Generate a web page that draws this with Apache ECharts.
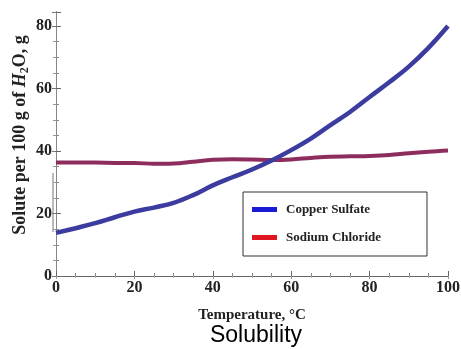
<!DOCTYPE html>
<html><head><meta charset="utf-8">
<script src="https://cdn.jsdelivr.net/npm/echarts@6/dist/echarts.min.js"></script>
<style>html,body{margin:0;padding:0;background:#fff}#c{width:461px;height:349px}</style>
</head><body><div id="c"></div>
<script>
const temps = [0,5,10,15,20,25,30,35,40,45,50,55,60,65,70,75,80,85,90,95,100];
const copperSulfate = [13.8,15.3,16.9,18.8,20.6,21.9,23.4,25.9,29.0,31.6,34.1,37.0,40.3,44.0,48.3,52.5,57.3,62.0,67.0,73.0,80.0];
const sodiumChloride = [36.3,36.3,36.3,36.2,36.2,35.9,36.0,36.6,37.2,37.4,37.3,37.1,37.3,37.8,38.2,38.3,38.4,38.7,39.3,39.8,40.2];
const seriesNames = ['Copper Sulfate','Sodium Chloride'];
const xTicks = [0,20,40,60,80,100];
const yTicks = [0,20,40,60,80];

const serif = '"Liberation Serif", "Times New Roman", serif';
const chart = echarts.init(document.getElementById('c'));
const pairs = a => temps.map((t,i)=>[t,a[i]]);
const tickLbl = {fontFamily: serif, fontWeight:'bold', fontSize:16, color:'#222'};
chart.setOption({
  animation:false,
  title:{text:'Solubility', left:251, textAlign:'center', top:319, textStyle:{fontFamily:'"Liberation Sans", Arial, sans-serif', fontWeight:'normal', fontSize:23, color:'#000'}},
  grid:{left:56, right:13, top:12, bottom:73, outerBoundsMode:'none', containLabel:false},
  legend:{
    orient:'vertical', left:243, top:192,
    borderColor:'#333', borderWidth:1, padding:[11,46,12,9],
    itemWidth:25, itemHeight:5, itemGap:15,
    textStyle:{fontFamily:serif, fontWeight:'bold', fontSize:13, color:'#222', padding:[0,0,0,4]},
    data:[
      {name:seriesNames[0], icon:'rect', itemStyle:{color:'#1a1ad6'}},
      {name:seriesNames[1], icon:'rect', itemStyle:{color:'#e01620'}}
    ]
  },
  xAxis:[{
    type:'value', min:0, max:100, interval:20,
    name:'Temperature, °C', nameLocation:'middle', nameGap:32, nameMoveOverlap:false,
    nameTextStyle:{fontFamily:serif, fontWeight:'bold', fontSize:15, color:'#222'},
    axisLine:{lineStyle:{color:'#666', width:1}},
    axisTick:{inside:true, length:5, lineStyle:{color:'#666'}},
    minorTick:{show:true, splitNumber:4, length:3, lineStyle:{color:'#888'}},
    splitLine:{show:false},
    axisLabel:{...tickLbl, margin:4, formatter:v=>xTicks.includes(v)?String(v):''}
  },{
    type:'value', position:'top', min:0, max:100, interval:20,
    axisLine:{show:false},
    axisTick:{inside:true, length:3, lineStyle:{color:'#999'}},
    minorTick:{show:true, splitNumber:4, length:2, lineStyle:{color:'#aaa'}},
    splitLine:{show:false}, axisLabel:{show:false}
  }],
  yAxis:[{
    type:'value', min:0, max:84.5, interval:20,
    name:'{a|Solute per 100 g of }{i|H}{s|2}{a|O, g}', nameLocation:'middle', nameGap:25, nameRotate:90, nameMoveOverlap:false,
    nameTextStyle:{padding:[0,0,0,18], rich:{
      a:{fontFamily:serif, fontWeight:'bold', fontSize:18, color:'#222'},
      i:{fontFamily:serif, fontWeight:'bold', fontStyle:'italic', fontSize:18, color:'#222'},
      s:{fontFamily:serif, fontWeight:'bold', fontSize:12, color:'#222', padding:[9,0,0,0]}
    }},
    axisLine:{show:true, lineStyle:{color:'#555', width:1}},
    axisTick:{inside:true, length:5, lineStyle:{color:'#666'}},
    minorTick:{show:true, splitNumber:4, length:3, lineStyle:{color:'#888'}},
    splitLine:{show:false},
    axisLabel:{...tickLbl, margin:4, showMaxLabel:false, formatter:v=>yTicks.includes(v)?String(v):''}
  },{
    type:'value', position:'right', min:0, max:84.5, interval:20,
    axisLine:{show:true, lineStyle:{color:'#888', width:1}},
    axisTick:{inside:true, length:4, lineStyle:{color:'#777'}},
    minorTick:{show:true, splitNumber:4, length:3, lineStyle:{color:'#999'}},
    splitLine:{show:false}, axisLabel:{show:false}
  }],
  series:[
    {name:seriesNames[0], type:'line', data:pairs(copperSulfate), smooth:0.4, showSymbol:false, symbol:'none',
     lineStyle:{color:'#3b3ba0', width:4.5}, itemStyle:{color:'#3b3ba0'}, z:3},
    {name:seriesNames[1], type:'line', data:pairs(sodiumChloride), smooth:0.4, showSymbol:false, symbol:'none',
     lineStyle:{color:'#8d2d5e', width:4}, itemStyle:{color:'#8d2d5e'}, z:2}
  ],
  graphic:[{type:'line', shape:{x1:53, y1:173, x2:53, y2:232}, style:{stroke:'#777', lineWidth:1}}]
});
</script></body></html>
